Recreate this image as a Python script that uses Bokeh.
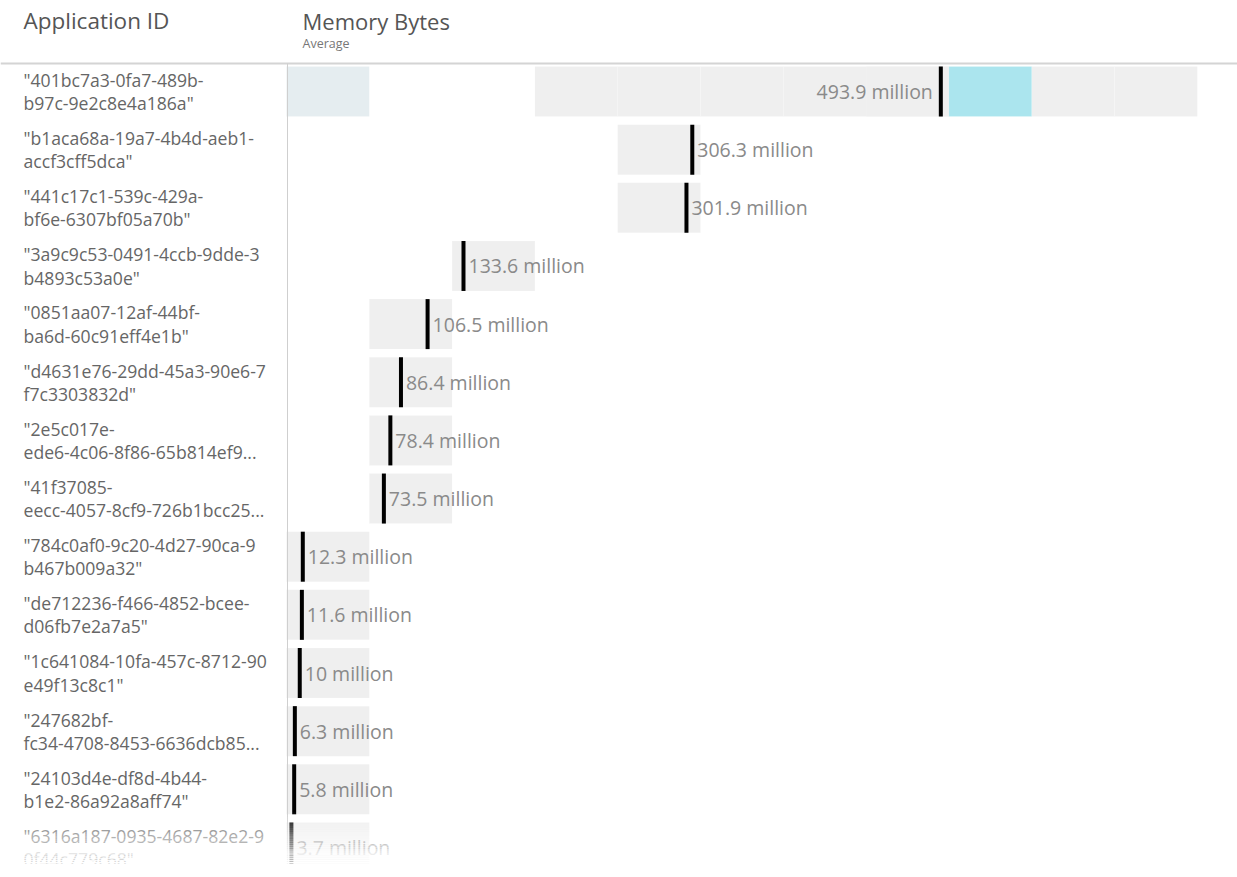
from bokeh.plotting import figure
from bokeh.models import ColumnDataSource, Range1d, Label
from bokeh.core.properties import value
from bokeh.embed import file_html
from bokeh.resources import INLINE

# ---------------- data ----------------
app_ids = [
    '"401bc7a3-0fa7-489b-\nb97c-9e2c8e4a186a"',
    '"b1aca68a-19a7-4b4d-aeb1-\naccf3cff5dca"',
    '"441c17c1-539c-429a-\nbf6e-6307bf05a70b"',
    '"3a9c9c53-0491-4ccb-9dde-3\nb4893c53a0e"',
    '"0851aa07-12af-44bf-\nba6d-60c91eff4e1b"',
    '"d4631e76-29dd-45a3-90e6-7\nf7c3303832d"',
    '"2e5c017e-\nede6-4c06-8f86-65b814ef9...',
    '"41f37085-\neecc-4057-8cf9-726b1bcc25...',
    '"784c0af0-9c20-4d27-90ca-9\nb467b009a32"',
    '"de712236-f466-4852-bcee-\nd06fb7e2a7a5"',
    '"1c641084-10fa-457c-8712-90\ne49f13c8c1"',
    '"247682bf-\nfc34-4708-8453-6636dcb85...',
    '"24103d4e-df8d-4b44-\nb1e2-86a92a8aff74"',
    '"6316a187-0935-4687-82e2-9\n0f44c779c68"',
]
avg_memory_millions = [493.9, 306.3, 301.9, 133.6, 106.5, 86.4, 78.4, 73.5,
                       12.3, 11.6, 10.0, 6.3, 5.8, 3.7]
bin_width_millions = 62.5
# extra distribution bins shown on the first row
first_row_grey_bins = [3, 4, 5, 6, 7, 9, 10]
first_row_cyan_bins = [8]
first_row_pale_bins = [0]

# ---------------- layout helpers ----------------
W, H = 1237, 877
PX_PER_M = 1.3248
X0_PX = 286.0
ROW0_PX = 91.0
ROW_PX = 58.15


def px_to_x(px):
    return (px - X0_PX) / PX_PER_M


def px_to_y(py):
    return (py - ROW0_PX) / ROW_PX


n = len(app_ids)
rows = list(range(n))
HALF = 0.43

p = figure(width=W, height=H,
           x_range=Range1d(px_to_x(0), px_to_x(W)),
           y_range=Range1d(px_to_y(H), px_to_y(0)),
           output_backend="svg", toolbar_location=None, min_border=0,
           x_axis_location=None, y_axis_location=None)
p.grid.visible = False
p.outline_line_color = None
p.background_fill_color = "white"
p.border_fill_color = "white"

FONT = value("Open Sans")

# primary bin box per row
bins = [int(v // bin_width_millions) for v in avg_memory_millions]
box_src = ColumnDataSource(dict(
    left=[b * bin_width_millions for b in bins],
    right=[(b + 1) * bin_width_millions for b in bins],
    top=[r - HALF for r in rows],
    bottom=[r + HALF for r in rows],
))
p.quad(left="left", right="right", top="top", bottom="bottom", source=box_src,
       fill_color="#efefef", line_color="white", line_alpha=0.15, line_width=1)


def extra_bins(blist, color):
    src = ColumnDataSource(dict(
        left=[b * bin_width_millions for b in blist],
        right=[(b + 1) * bin_width_millions for b in blist],
        top=[-HALF] * len(blist),
        bottom=[HALF] * len(blist),
    ))
    p.quad(left="left", right="right", top="top", bottom="bottom", source=src,
           fill_color=color, line_color="white", line_alpha=0.15, line_width=1)


extra_bins(first_row_grey_bins, "#efefef")
extra_bins(first_row_cyan_bins, "#abe5ee")
extra_bins(first_row_pale_bins, "#e5edf0")

# header line and divider
p.segment(x0=[px_to_x(0)], x1=[px_to_x(W)], y0=[px_to_y(63)], y1=[px_to_y(63)],
          line_color="#d4d4d4", line_width=2)
p.segment(x0=[px_to_x(287)], x1=[px_to_x(287)], y0=[px_to_y(63)], y1=[px_to_y(H)],
          line_color="#cfcfcf", line_width=1)

# value markers
p.segment(x0=avg_memory_millions, x1=avg_memory_millions,
          y0=[r - HALF for r in rows], y1=[r + HALF for r in rows],
          line_color="black", line_width=4, line_cap="butt")

# value labels
labels = [f"{v:g} million" for v in avg_memory_millions]
left_idx = [i for i, v in enumerate(avg_memory_millions) if v <= 400]
right_idx = [i for i, v in enumerate(avg_memory_millions) if v > 400]
for idx, align, off in ((left_idx, "left", 5), (right_idx, "right", -8)):
    src = ColumnDataSource(dict(
        x=[avg_memory_millions[i] for i in idx],
        y=[rows[i] for i in idx],
        t=[labels[i] for i in idx],
    ))
    p.text(x="x", y="y", text="t", source=src, x_offset=off, y_offset=0,
           text_font=FONT, text_font_size="19.5px", text_color="#8a8a8a",
           text_align=align, text_baseline="middle")

# row labels
id_src = ColumnDataSource(dict(x=[px_to_x(23)] * n, y=rows, t=app_ids))
p.text(x="x", y="y", text="t", source=id_src,
       text_font=FONT, text_font_size="17.6px", text_color="#666666",
       text_align="left", text_baseline="middle", text_line_height=0.97)

# headers
p.add_layout(Label(x=px_to_x(23), y=px_to_y(20), text="Application ID",
                   text_font="Open Sans", text_font_size="22.5px", text_color="#555555",
                   text_baseline="middle", text_align="left"))
p.add_layout(Label(x=px_to_x(302), y=px_to_y(20), text="Memory Bytes",
                   text_font="Open Sans", text_font_size="22px", text_color="#555555",
                   text_baseline="middle", text_align="left"))
p.add_layout(Label(x=px_to_x(302), y=px_to_y(43), text="Average",
                   text_font="Open Sans", text_font_size="12.5px", text_color="#777777",
                   text_baseline="middle", text_align="left"))

# bottom fade-out overlay
last = rows[-1]
fade_start = last - 0.6
fade_end = last + 0.28
N = 24
step = (fade_end - fade_start) / N
p.quad(left=[px_to_x(0)] * N, right=[px_to_x(W)] * N,
       top=[fade_start + k * step for k in range(N)],
       bottom=[fade_start + (k + 1) * step for k in range(N)],
       fill_color="white", fill_alpha=[(k + 1) / N for k in range(N)], line_color=None)
p.quad(left=[px_to_x(0)], right=[px_to_x(W)], top=[fade_end], bottom=[px_to_y(H) + 1],
       fill_color="white", fill_alpha=1.0, line_color=None)

open("out.html", "w").write(file_html(p, INLINE))
